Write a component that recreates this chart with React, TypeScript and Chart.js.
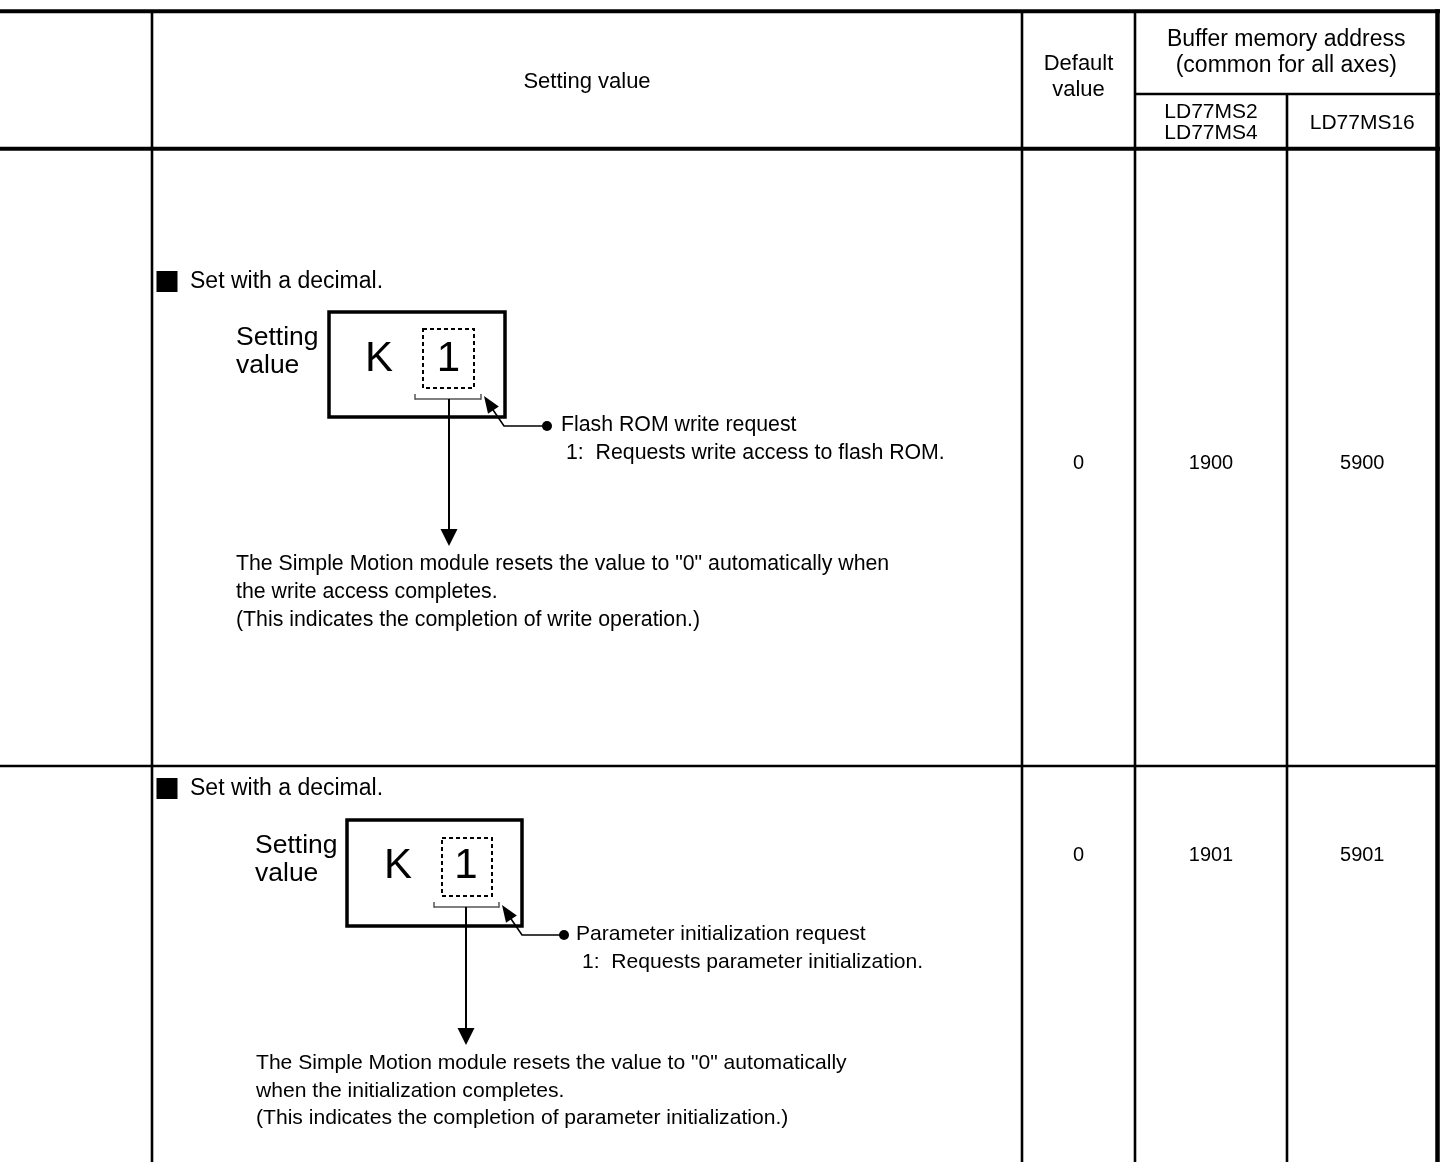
import React, { useEffect, useRef } from "react";
import { Chart, registerables } from "chart.js";

Chart.register(...registerables);

// ---------- content ----------
const headerSetting = "Setting value";
const headerDefault = ["Default", "value"];
const headerBuffer = ["Buffer memory address", "(common for all axes)"];
const modelsA = ["LD77MS2", "LD77MS4"];
const modelsB = ["LD77MS16"];

const defaultValues = ["0", "0"];
const addressesA = ["1900", "1901"];
const addressesB = ["5900", "5901"];

const setFormat = "Set with a decimal.";
const settingLabel = ["Setting", "value"];
const settingDigits = ["K", "1"];
const requestNames = ["Flash ROM write request", "Parameter initialization request"];
const requestMeanings = [
  "1:  Requests write access to flash ROM.",
  "1:  Requests parameter initialization.",
];
const noteLines = [
  [
    'The Simple Motion module resets the value to "0" automatically when',
    "the write access completes.",
    "(This indicates the completion of write operation.)",
  ],
  [
    'The Simple Motion module resets the value to "0" automatically',
    "when the initialization completes.",
    "(This indicates the completion of parameter initialization.)",
  ],
];

// ---------- layout (page units, mapped through the chart scales) ----------
const W = 1440;
const H = 1162;
const COLS = { c1: 152, c2: 1022, c3: 1135, c4: 1287, right: 1437.5 };
const TOP_Y = 11.3;
const SUB_Y = 94;
const HEAD_Y = 148.7;
const ROW_SEP_Y = 766;

const rowLayouts = [
  {
    square: [156.5, 271, 21], setText: [190, 282], label: [236, 338, 366],
    box: [329, 312, 505, 417], k: [379, 359], dashed: [423, 329, 474, 388],
    one: [448.5, 359], bracket: [415, 481, 399], arrowX: 449, tip: 546,
    leaderTip: [484, 396], elbow: [504, 426], dot: [547, 426],
    reqName: [561, 425], reqMeaning: [566, 453], paraX: 236, paraY: [564, 592, 620], valueY: 463,
    body: 21.3,
  },
  {
    square: [156.5, 778, 21], setText: [190, 789], label: [255, 846, 874],
    box: [347, 820, 522, 926], k: [398, 866], dashed: [442, 838, 492, 896],
    one: [466, 866], bracket: [434, 499, 907], arrowX: 466, tip: 1045,
    leaderTip: [502, 905], elbow: [522, 935], dot: [564, 935],
    reqName: [576, 934], reqMeaning: [582, 962], paraX: 256, paraY: [1063, 1091, 1118], valueY: 855,
    body: 21.1,
  },
];

const FONT = '"Liberation Sans", Arial, Helvetica, sans-serif';

const tablePlugin = {
  id: "manualTable",
  beforeDraw(chart: any) {
    const ctx = chart.ctx as CanvasRenderingContext2D;
    ctx.save();
    ctx.fillStyle = "#ffffff";
    ctx.fillRect(0, 0, chart.width, chart.height);
    ctx.restore();
  },
  afterDraw(chart: any) {
    const ctx = chart.ctx as CanvasRenderingContext2D;
    const sx = chart.scales.x;
    const sy = chart.scales.y;
    const X = (v: number) => sx.getPixelForValue(v);
    const Y = (v: number) => sy.getPixelForValue(v);

    const line = (x1: number, y1: number, x2: number, y2: number, w: number, color = "#000") => {
      ctx.beginPath();
      ctx.strokeStyle = color;
      ctx.lineWidth = w;
      ctx.moveTo(X(x1), Y(y1));
      ctx.lineTo(X(x2), Y(y2));
      ctx.stroke();
    };
    const text = (s: string, x: number, y: number, size: number, align: CanvasTextAlign = "left") => {
      ctx.font = `${size}px ${FONT}`;
      ctx.fillStyle = "#000";
      ctx.textAlign = align;
      ctx.textBaseline = "middle";
      ctx.fillText(s, X(x), Y(y));
    };

    ctx.save();
    ctx.lineCap = "butt";

    // ---- grid ----
    line(0, TOP_Y, W, TOP_Y, 4);
    line(0, HEAD_Y, W, HEAD_Y, 4);
    line(COLS.c3, SUB_Y, W, SUB_Y, 2.5);
    line(0, ROW_SEP_Y, COLS.right, ROW_SEP_Y, 2.5);
    line(COLS.c1, TOP_Y, COLS.c1, H, 2.6);
    line(COLS.c2, TOP_Y, COLS.c2, H, 2.6);
    line(COLS.c3, TOP_Y, COLS.c3, H, 2.6);
    line(COLS.c4, SUB_Y, COLS.c4, H, 2.6);
    line(COLS.right, TOP_Y - 2, COLS.right, H, 4.5);

    // ---- header text ----
    text(headerSetting, (COLS.c1 + COLS.c2) / 2, 82, 22, "center");
    text(headerDefault[0], (COLS.c2 + COLS.c3) / 2, 64, 22, "center");
    text(headerDefault[1], (COLS.c2 + COLS.c3) / 2, 90, 22, "center");
    text(headerBuffer[0], (COLS.c3 + COLS.right) / 2, 40, 23, "center");
    text(headerBuffer[1], (COLS.c3 + COLS.right) / 2, 66, 23, "center");
    text(modelsA[0], (COLS.c3 + COLS.c4) / 2, 112.5, 21, "center");
    text(modelsA[1], (COLS.c3 + COLS.c4) / 2, 133, 21, "center");
    text(modelsB[0], (COLS.c4 + COLS.right) / 2, 123, 21, "center");

    // ---- rows ----
    rowLayouts.forEach((L, i) => {
      // values
      text(defaultValues[i], (COLS.c2 + COLS.c3) / 2, L.valueY, 20, "center");
      text(addressesA[i], (COLS.c3 + COLS.c4) / 2, L.valueY, 20, "center");
      text(addressesB[i], (COLS.c4 + COLS.right) / 2, L.valueY, 20, "center");

      // black square bullet + format text
      const [qx, qy, qs] = L.square;
      ctx.fillStyle = "#000";
      ctx.fillRect(X(qx), Y(qy), X(qx + qs) - X(qx), Y(qy + qs) - Y(qy));
      text(setFormat, L.setText[0], L.setText[1], 23);

      // label
      text(settingLabel[0], L.label[0], L.label[1], 26.5);
      text(settingLabel[1], L.label[0], L.label[2], 26.5);

      // device box
      const [bx1, by1, bx2, by2] = L.box;
      ctx.strokeStyle = "#000";
      ctx.lineWidth = 3.5;
      ctx.strokeRect(X(bx1), Y(by1), X(bx2) - X(bx1), Y(by2) - Y(by1));

      // K and digit
      text(settingDigits[0], L.k[0], L.k[1], 42, "center");
      text(settingDigits[1], L.one[0], L.one[1], 42, "center");

      // dashed digit box
      const [dx1, dy1, dx2, dy2] = L.dashed;
      ctx.save();
      ctx.setLineDash([4, 3]);
      ctx.lineWidth = 2;
      ctx.strokeRect(X(dx1), Y(dy1), X(dx2) - X(dx1), Y(dy2) - Y(dy1));
      ctx.restore();

      // bracket under digit
      const [bl, br, byy] = L.bracket;
      line(bl, byy, br, byy, 1.5, "#555");
      line(bl, byy + 0.7, bl, byy - 5, 1.5, "#555");
      line(br, byy + 0.7, br, byy - 5, 1.5, "#555");

      // vertical arrow
      line(L.arrowX, byy, L.arrowX, L.tip - 16, 2);
      ctx.beginPath();
      ctx.fillStyle = "#000";
      ctx.moveTo(X(L.arrowX - 8.5), Y(L.tip - 17));
      ctx.lineTo(X(L.arrowX + 8.5), Y(L.tip - 17));
      ctx.lineTo(X(L.arrowX), Y(L.tip));
      ctx.closePath();
      ctx.fill();

      // leader with arrow head
      const [tx, ty] = L.leaderTip;
      const [ex, ey] = L.elbow;
      const [ox, oy] = L.dot;
      ctx.beginPath();
      ctx.strokeStyle = "#000";
      ctx.lineWidth = 1.6;
      ctx.moveTo(X(ox), Y(oy));
      ctx.lineTo(X(ex), Y(ey));
      ctx.lineTo(X(tx + 5), Y(ty + 8));
      ctx.stroke();
      const ang = Math.atan2(ey - ty, ex - tx);
      const hl = 17, hw = 6.5;
      const bxh = tx + Math.cos(ang) * hl, byh = ty + Math.sin(ang) * hl;
      const px = -Math.sin(ang) * hw, py = Math.cos(ang) * hw;
      ctx.beginPath();
      ctx.moveTo(X(tx), Y(ty));
      ctx.lineTo(X(bxh + px), Y(byh + py));
      ctx.lineTo(X(bxh - px), Y(byh - py));
      ctx.closePath();
      ctx.fill();
      ctx.beginPath();
      ctx.arc(X(ox), Y(oy), 5, 0, Math.PI * 2);
      ctx.fill();

      text(requestNames[i], L.reqName[0], L.reqName[1], L.body);
      text(requestMeanings[i], L.reqMeaning[0], L.reqMeaning[1], L.body);

      noteLines[i].forEach((s, j) => text(s, L.paraX, L.paraY[j], L.body));
    });

    ctx.restore();
  },
};

export default function App() {
  const ref = useRef<HTMLCanvasElement>(null);
  useEffect(() => {
    document.body.style.margin = "0";
    const canvas = ref.current;
    if (!canvas) return;
    const chart = new Chart(canvas, {
      type: "scatter",
      data: { datasets: [] },
      options: {
        responsive: false,
        animation: false,
        devicePixelRatio: 1,
        events: [],
        layout: { padding: 0 },
        plugins: { legend: { display: false }, tooltip: { enabled: false }, title: { display: false } },
        scales: {
          x: { type: "linear", min: 0, max: W, display: false },
          y: { type: "linear", min: 0, max: H, reverse: true, display: false },
        },
      },
      plugins: [tablePlugin],
    });
    return () => chart.destroy();
  }, []);
  return (
    <div style={{ width: W, height: H, background: "#fff" }}>
      <canvas ref={ref} width={W} height={H} style={{ display: "block" }} />
    </div>
  );
}
